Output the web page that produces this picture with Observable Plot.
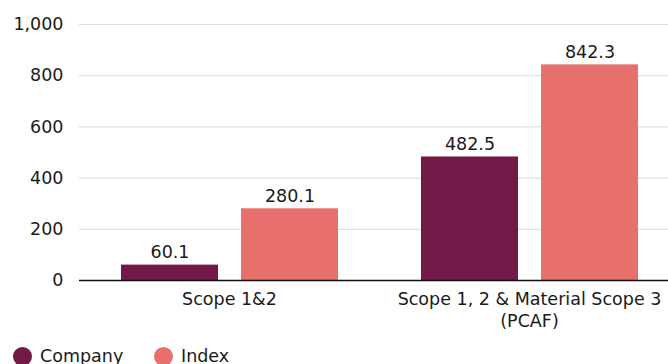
<!DOCTYPE html>
<html>
<head>
<meta charset="utf-8">
<script src="https://cdn.jsdelivr.net/npm/d3@7"></script>
<script src="https://cdn.jsdelivr.net/npm/@observablehq/plot@0.6"></script>
<style>
  body { margin: 0; background: #fff; font-family: "DejaVu Sans", sans-serif; }
  .legend { display: flex; align-items: center; height: 20px; margin-top: 10px; padding-left: 13px; font-size: 17.5px; color: #1a1a1a; }
  .legend .item { display: flex; align-items: center; }
  .legend .item:first-child { width: 141px; }
  .legend .dot { width: 19px; height: 19px; border-radius: 50%; margin-right: 8px; }
</style>
</head>
<body>
<div id="chart"></div>
<script>
// Emissions by scope: company vs. index
const groups = ["Scope 1&2", "Scope 1, 2 & Material Scope 3\n(PCAF)"];
const series = ["Company", "Index"];
const companyValues = [60.1, 482.5];
const indexValues = [280.1, 842.3];
const yTicks = [0, 200, 400, 600, 800, 1000];
const colors = ["#731947", "#e8706c"];

const data = groups.flatMap((g, i) => [
  {group: g, series: series[0], value: companyValues[i]},
  {group: g, series: series[1], value: indexValues[i]}
]);

const chart = Plot.plot({
  width: 668,
  height: 336,
  marginLeft: 79,
  marginRight: 0,
  marginTop: 24,
  marginBottom: 56,
  style: {fontFamily: "'DejaVu Sans', sans-serif", fontSize: "17.5px", color: "#1a1a1a", background: "#fff"},
  fx: {domain: groups, range: [79, 679], padding: 0, label: null},
  x: {domain: series, paddingInner: 0.1917, paddingOuter: 0.3458, axis: null},
  y: {domain: [0, 1000]},
  color: {domain: series, range: colors},
  marks: [
    Plot.gridY(yTicks, {stroke: "#d9d9d9", strokeOpacity: 1}),
    Plot.axisY(yTicks, {tickSize: 0, tickPadding: 16, tickFormat: d3.format(","), label: null}),
    Plot.barY(data, {fx: "group", x: "series", y: "value", fill: "series"}),
    Plot.text(data, {fx: "group", x: "series", y: "value", text: d => d.value.toFixed(1), lineAnchor: "bottom", dy: -7, fill: "#1a1a1a"}),
    Plot.ruleY([0], {stroke: "#111", strokeWidth: 1.6}),
    Plot.axisFx({anchor: "bottom", tickSize: 0, tickPadding: 8.5, lineHeight: 1.257, label: null})
  ]
});
document.getElementById("chart").append(chart);

const legend = document.createElement("div");
legend.className = "legend";
series.forEach((s, i) => {
  const item = document.createElement("div");
  item.className = "item";
  const dot = document.createElement("span");
  dot.className = "dot";
  dot.style.background = colors[i];
  const label = document.createElement("span");
  label.textContent = s;
  item.append(dot, label);
  legend.append(item);
});
document.getElementById("chart").append(legend);
</script>
</body>
</html>
